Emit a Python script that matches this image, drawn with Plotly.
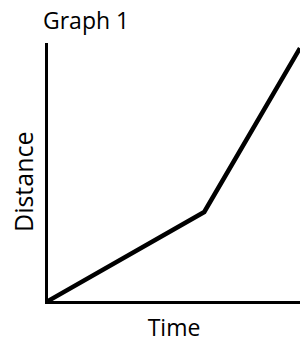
import plotly.graph_objects as go

time_vals = [0, 6.2, 10]
distance_vals = [0, 3.45, 9.8]
title_text = "Graph 1"
x_label = "Time"
y_label = "Distance"

fig = go.Figure()
fig.add_trace(go.Scatter(
    x=time_vals, y=distance_vals, mode="lines",
    line=dict(color="black", width=4.5), cliponaxis=False,
    hoverinfo="skip", showlegend=False,
))

fig.update_layout(
    width=300, height=343,
    margin=dict(l=48, r=0, t=43, b=42, autoexpand=False),
    paper_bgcolor="white", plot_bgcolor="white",
    font=dict(family="Open Sans", color="black", size=22),
    title=dict(text=title_text, x=43/300, xref="container", xanchor="left",
               y=1 - 21/343, yref="container", yanchor="middle", pad=dict(t=0, b=0),
               font=dict(family="Open Sans", size=23, color="black")),
    xaxis=dict(range=[0, 10], showgrid=False, zeroline=False, showticklabels=False,
               ticks="", showline=True, linecolor="black", linewidth=3,
               automargin=False,
               title=dict(text=x_label, standoff=21, font=dict(size=23))),
    yaxis=dict(range=[0, 10], showgrid=False, zeroline=False, showticklabels=False,
               ticks="", showline=True, linecolor="black", linewidth=3,
               automargin=False),
    annotations=[dict(text=y_label, textangle=-90, xref="paper", yref="paper",
                      x=0, y=119/258, xshift=-25, xanchor="center", yanchor="middle",
                      showarrow=False, font=dict(size=25))],
)

fig.write_html("out.html", config={"displayModeBar": False},
               post_script="document.body.style.margin='0';")
